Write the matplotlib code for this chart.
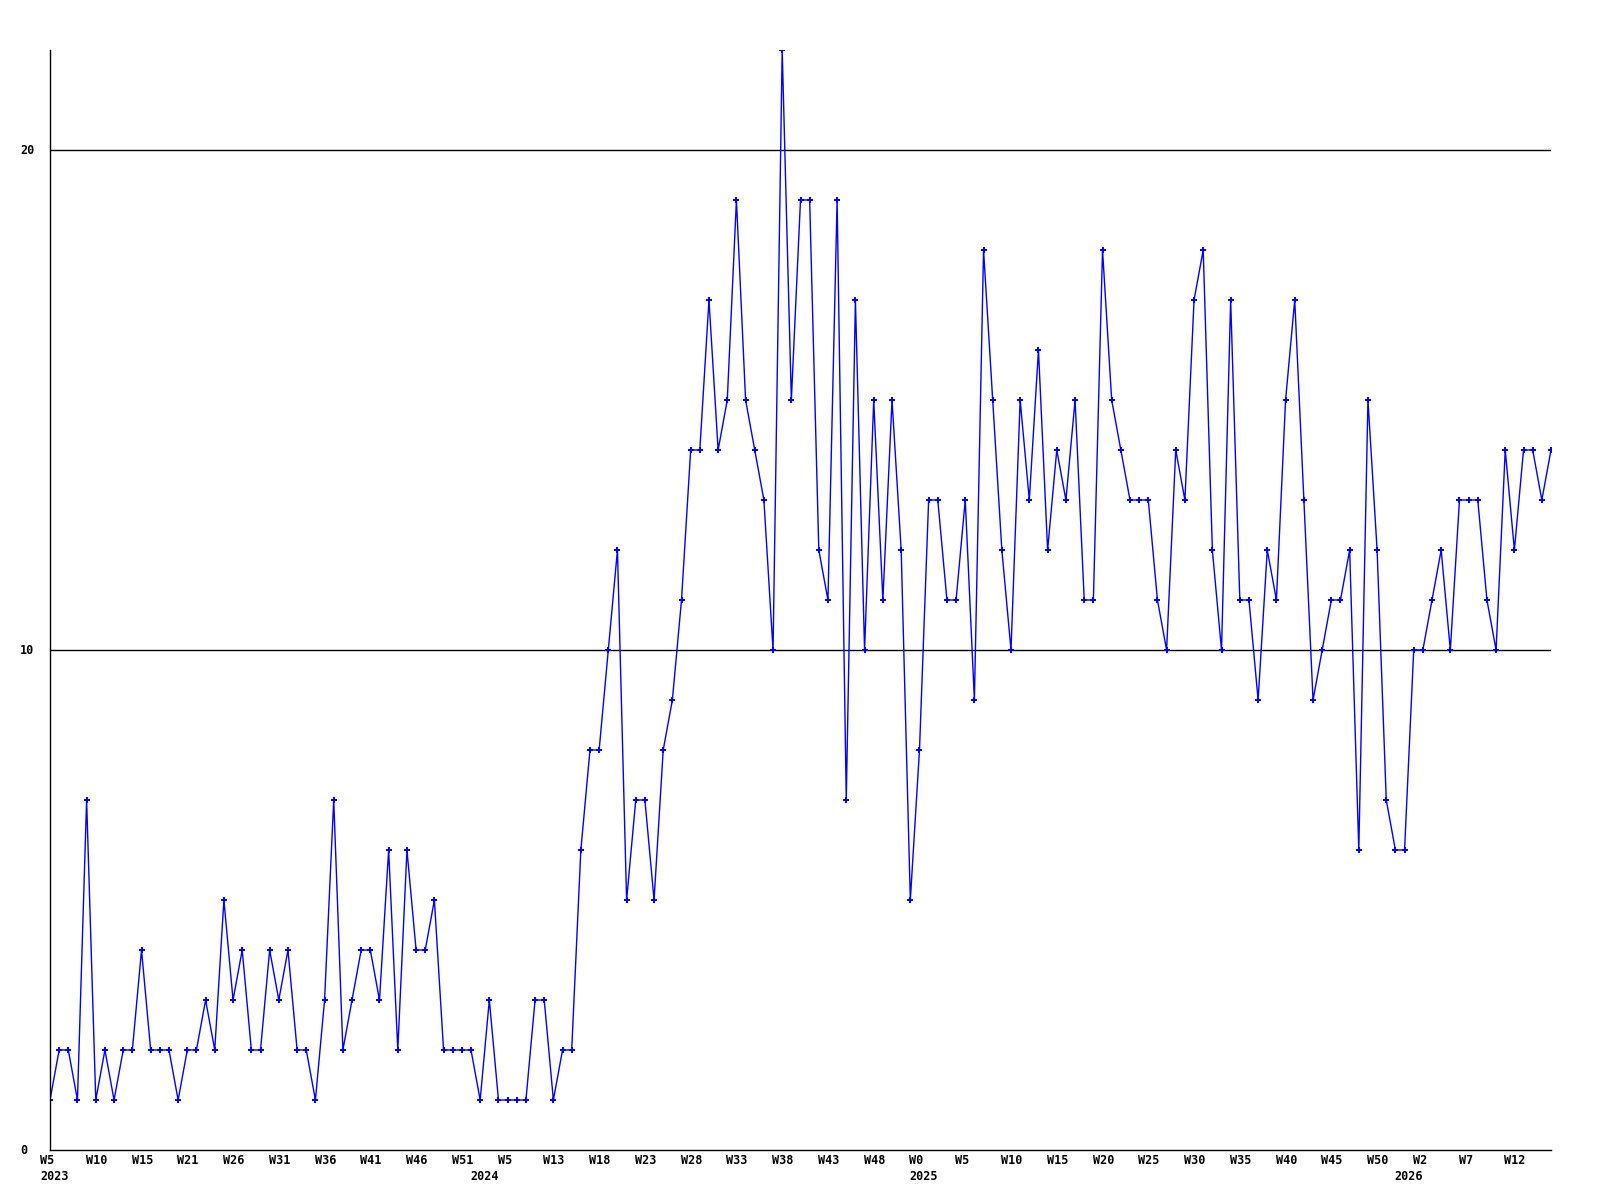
import matplotlib
matplotlib.use("Agg")
import matplotlib.pyplot as plt
from matplotlib.transforms import ScaledTranslation, blended_transform_factory

# weekly counts, one value per point on the x axis
counts = [1, 2, 2, 1, 7, 1, 2, 1, 2, 2,
          4, 2, 2, 2, 1, 2, 2, 3, 2, 5,
          3, 4, 2, 2, 4, 3, 4, 2, 2, 1,
          3, 7, 2, 3, 4, 4, 3, 6, 2, 6,
          4, 4, 5, 2, 2, 2, 2, 1, 3, 1,
          1, 1, 1, 3, 3, 1, 2, 2, 6, 8,
          8, 10, 12, 5, 7, 7, 5, 8, 9, 11,
          14, 14, 17, 14, 15, 19, 15, 14, 13, 10,
          22, 15, 19, 19, 12, 11, 19, 7, 17, 10,
          15, 11, 15, 12, 5, 8, 13, 13, 11, 11,
          13, 9, 18, 15, 12, 10, 15, 13, 16, 12,
          14, 13, 15, 11, 11, 18, 15, 14, 13, 13,
          13, 11, 10, 14, 13, 17, 18, 12, 10, 17,
          11, 11, 9, 12, 11, 15, 17, 13, 9, 10,
          11, 11, 12, 6, 15, 12, 7, 6, 6, 10,
          10, 11, 12, 10, 13, 13, 13, 11, 10, 14,
          12, 14, 14, 13, 14]

week_labels = ["W5", "W10", "W15", "W21", "W26", "W31", "W36", "W41", "W46", "W51",
               "W5", "W13", "W18", "W23", "W28", "W33", "W38", "W43", "W48", "W0",
               "W5", "W10", "W15", "W20", "W25", "W30", "W35", "W40", "W45", "W50",
               "W2", "W7", "W12"]
year_labels = ["2023", "2024", "2025", "2026"]
year_pos = [0, 47, 95, 148]
y_ticks = [0, 10, 20]

FONT = dict(family="DejaVu Sans Mono", weight="bold", size=8.5)

fig = plt.figure(figsize=(16, 12), dpi=100)
ax = fig.add_axes([50 / 1600, 50 / 1200, 1501 / 1600, 1100 / 1200])

x = list(range(len(counts)))
ax.plot(x, counts, color="#0000ff", linewidth=1, marker="P", markersize=4,
        markeredgewidth=0)

for t in y_ticks[1:]:
    ax.axhline(t, color="black", linewidth=1, zorder=0)

ax.set_xlim(0, len(counts) - 1)
ax.set_ylim(0, 22)
for s in ["top", "right"]:
    ax.spines[s].set_visible(False)
for s in ["left", "bottom"]:
    ax.spines[s].set_linewidth(1)
ax.set_xticks([])
ax.set_yticks([])

# y labels, left aligned near the figure edge
ydata = blended_transform_factory(fig.transFigure, ax.transData)
for t in y_ticks:
    ax.text(20 / 1600, t, str(t), transform=ydata, ha="left", va="center", **FONT)

# week labels every 5 points, year labels in a second row
base = blended_transform_factory(ax.transData, ax.transAxes)
shift = ScaledTranslation(-10 / 100, 0, fig.dpi_scale_trans)
for i, lab in enumerate(week_labels):
    ax.text(i * 5, 0, lab, transform=base + shift + ScaledTranslation(0, -11 / 100, fig.dpi_scale_trans),
            ha="left", va="center", **FONT)
for p, lab in zip(year_pos, year_labels):
    ax.text(p, 0, lab, transform=base + shift + ScaledTranslation(0, -27 / 100, fig.dpi_scale_trans),
            ha="left", va="center", **FONT)

fig.savefig("out.png", dpi=100, facecolor="white")
